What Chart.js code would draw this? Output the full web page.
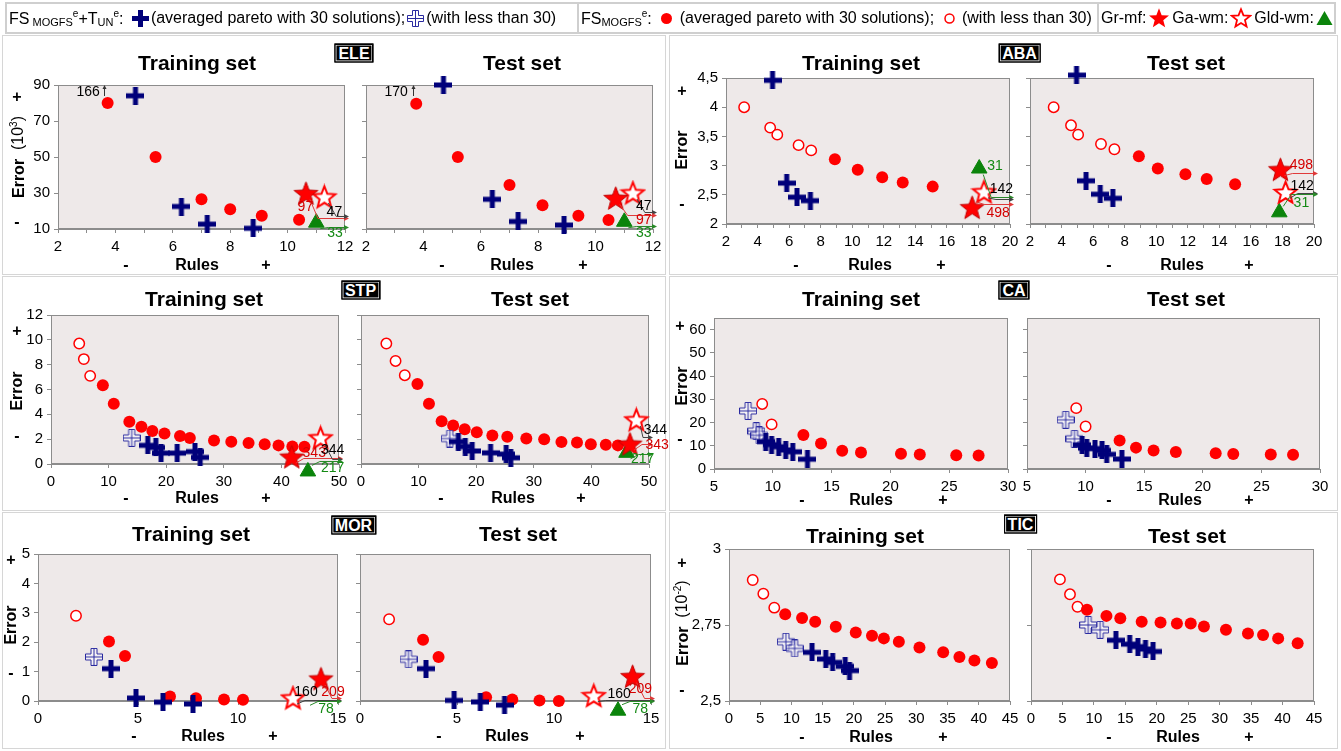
<!DOCTYPE html>
<html><head><meta charset="utf-8">
<script src="https://cdn.jsdelivr.net/npm/chart.js@4.4.1/dist/chart.umd.min.js"></script>
<style>
html,body{margin:0;padding:0;background:#fff;}
body{width:1341px;height:751px;position:relative;overflow:hidden;font-family:"Liberation Sans",Arial,Helvetica,sans-serif;color:#000;}
.c{position:absolute;transform:translate(-50%,-50%);white-space:nowrap;line-height:1;}
.panel{position:absolute;border:1px solid #d6d6d6;box-sizing:border-box;}
.tag{position:absolute;transform:translate(-50%,-50%);background:#000;color:#fff;font-weight:bold;font-size:16px;line-height:15px;padding:1px 3px;border:1px solid #000;box-shadow:inset 0 0 0 1px #fff;white-space:nowrap;}
.ttl{font-weight:bold;font-size:21px;}
.ax{font-weight:bold;font-size:16px;}
.rot{position:absolute;transform:translate(-50%,-50%) rotate(-90deg);white-space:nowrap;font-weight:bold;font-size:16px;line-height:1;}
.leg{position:absolute;top:18px;transform:translateY(-50%);display:flex;align-items:center;gap:2px;font-size:16px;white-space:nowrap;}
.leg sub{font-size:11px;vertical-align:-2px;}
.leg sup{font-size:10px;vertical-align:7px;}
canvas{position:absolute;}
</style></head><body>
<script>
// ====================== DATA ======================
// ---- ELE ----
const ELE_xTicks=[2,3,4,5,6,7,8,9,10,11,12];
const ELE_xLabels=['2','','4','','6','','8','','10','','12'];
const ELE_yTicks=[10,30,50,70,90];
const ELE_yLabels=['10','30','50','70','90'];
const ELE_tr_cross=[[4.7,84],[6.3,22.5],[7.2,12.7],[8.8,10.4]];
const ELE_tr_openPlus=[];
const ELE_tr_dot=[[3.73,80],[5.4,50],[7.0,26.5],[8.0,21],[9.1,17.3],[10.4,15.2]];
const ELE_tr_openDot=[];
const ELE_tr_grmf=[[10.64,29.7]];
const ELE_tr_gawm=[[11.28,27.8]];
const ELE_tr_gld=[[11.0,13.5]];
const ELE_tr_up=[['166',3.62,3.05,86.2]];
const ELE_tr_off=[['97','grmf',16.2,10.62,22],['47','gawm',17.0,11.63,19.5],['33','gld',11.3,11.65,7.6]];
const ELE_te_cross=[[4.7,90],[6.4,26.5],[7.3,14.2],[8.9,12.2]];
const ELE_te_openPlus=[];
const ELE_te_dot=[[3.75,79.6],[5.2,50],[7.0,34.4],[8.15,23.2],[9.4,17.3],[10.45,15.0]];
const ELE_te_openDot=[];
const ELE_te_grmf=[[10.7,27]];
const ELE_te_gawm=[[11.3,30]];
const ELE_te_gld=[[11.0,14]];
const ELE_te_up=[['170',3.65,3.05,86.2]];
const ELE_te_off=[['47','gawm',19.2,11.68,22.7],['97','grmf',17.7,11.68,15],['33','gld',11.8,11.68,7.6]];
// ---- ABA ----
const ABA_xTicks=[2,3,4,5,6,7,8,9,10,11,12,13,14,15,16,17,18,19,20];
const ABA_xLabels=['2','','4','','6','','8','','10','','12','','14','','16','','18','','20'];
const ABA_yTicks=[2,2.5,3,3.5,4,4.5];
const ABA_yLabels=['2','2,5','3','3,5','4','4,5'];
const ABA_tr_cross=[[4.95,4.46],[5.85,2.7],[6.5,2.46],[7.35,2.4]];
const ABA_tr_openPlus=[];
const ABA_tr_dot=[[8.9,3.11],[10.35,2.93],[11.9,2.8],[13.2,2.71],[15.1,2.64]];
const ABA_tr_openDot=[[3.15,4.0],[4.8,3.65],[5.25,3.53],[6.6,3.35],[7.4,3.26]];
const ABA_tr_grmf=[[17.6,2.28]];
const ABA_tr_gawm=[[18.35,2.55]];
const ABA_tr_gld=[[18.05,2.95]];
const ABA_tr_up=[];
const ABA_tr_off=[['31','gld',2.47,19.05,2.99],['142','gawm',2.43,19.45,2.59],['498','grmf',2.35,19.25,2.19]];
const ABA_te_cross=[[4.95,4.55],[5.55,2.74],[6.45,2.51],[7.25,2.44]];
const ABA_te_openPlus=[];
const ABA_te_dot=[[8.9,3.16],[10.1,2.95],[11.85,2.85],[13.2,2.77],[15.0,2.68]];
const ABA_te_openDot=[[3.5,4.0],[4.6,3.69],[5.05,3.53],[6.5,3.37],[7.35,3.28]];
const ABA_te_grmf=[[17.87,2.93]];
const ABA_te_gawm=[[18.2,2.54]];
const ABA_te_gld=[[17.8,2.2]];
const ABA_te_up=[];
const ABA_te_off=[['498','grmf',2.87,19.2,3.0],['142','gawm',2.53,19.25,2.64],['31','gld',2.51,19.2,2.36]];
// ---- STP ----
const STP_xTicks=[0,10,20,30,40,50];
const STP_xLabels=['0','10','20','30','40','50'];
const STP_yTicks=[0,2,4,6,8,10,12];
const STP_yLabels=['0','2','4','6','8','10','12'];
const STP_tr_cross=[[16.8,1.5],[18.2,1.33],[19.1,0.88],[21.9,0.88],[25.0,1.0],[25.9,0.53]];
const STP_tr_openPlus=[[14.0,2.1]];
const STP_tr_dot=[[9.0,6.35],[10.9,4.85],[13.6,3.4],[15.7,3.0],[17.6,2.65],[19.7,2.45],[22.4,2.25],[24.1,2.1],[28.3,1.9],[31.3,1.8],[34.3,1.7],[37.1,1.6],[39.5,1.5],[41.9,1.4],[44.0,1.38]];
const STP_tr_openDot=[[4.9,9.7],[5.7,8.45],[6.8,7.1]];
const STP_tr_grmf=[[41.8,0.55]];
const STP_tr_gawm=[[46.8,2.1]];
const STP_tr_gld=[[44.6,-0.6]];
const STP_tr_up=[];
const STP_tr_off=[['343','grmf',0.48,45.7,0.85],['344','gawm',0.4,48.9,1.15],['217','gld',0.25,48.9,-0.3]];
const STP_te_cross=[[16.9,1.8],[18.1,1.4],[19.3,1.05],[22.5,0.9],[25.2,0.8],[26.0,0.5]];
const STP_te_openPlus=[[15.4,2.05]];
const STP_te_dot=[[9.8,6.45],[11.8,4.85],[14.0,3.45],[16.0,3.1],[18.0,2.8],[20.1,2.55],[22.8,2.3],[25.4,2.2],[28.7,2.05],[31.8,2.0],[34.8,1.78],[37.5,1.73],[39.9,1.6],[42.5,1.55],[44.6,1.5]];
const STP_te_openDot=[[4.4,9.7],[6.0,8.3],[7.6,7.15]];
const STP_te_grmf=[[46.7,1.6]];
const STP_te_gawm=[[47.8,3.55]];
const STP_te_gld=[[46.1,0.9]];
const STP_te_up=[];
const STP_te_off=[['344','gawm',2.2,51.1,2.74],['343','grmf',1.6,51.4,1.55],['217','gld',0.8,48.9,0.4]];
// ---- CA ----
const CA_xTicks=[5,10,15,20,25,30];
const CA_xLabels=['5','10','15','20','25','30'];
const CA_yTicks=[0,10,20,30,40,50,60];
const CA_yLabels=['0','10','20','30','40','50','60'];
const CA_tr_cross=[[9.4,11.8],[9.9,10.5],[10.5,9.6],[11.1,8.2],[11.7,7.4],[12.95,4.2]];
const CA_tr_openPlus=[[7.9,25],[8.6,16.3],[8.85,14.5]];
const CA_tr_dot=[[12.6,14.6],[14.1,11.0],[15.9,7.9],[17.5,7.1],[20.9,6.6],[22.5,6.2],[25.6,5.9],[27.5,5.8]];
const CA_tr_openDot=[[9.1,28],[9.9,19.2]];
const CA_te_cross=[[9.7,10.4],[10.1,9.0],[10.8,8.8],[11.4,8.0],[11.8,6.3],[13.1,4.3]];
const CA_te_openPlus=[[8.3,21.2],[9.05,13.0]];
const CA_te_dot=[[12.9,12.3],[14.3,9.2],[15.8,8.0],[17.7,7.3],[21.1,6.8],[22.6,6.5],[25.8,6.2],[27.7,6.1]];
const CA_te_openDot=[[9.2,26.2],[10.0,18.3]];
// ---- MOR ----
const MOR_xTicks=[0,5,10,15];
const MOR_xLabels=['0','5','10','15'];
const MOR_yTicks=[0,1,2,3,4,5];
const MOR_yLabels=['0','1','2','3','4','5'];
const MOR_tr_cross=[[3.65,1.1],[4.9,0.1],[6.25,-0.04],[7.75,-0.1]];
const MOR_tr_openPlus=[[2.8,1.5]];
const MOR_tr_dot=[[3.55,2.02],[4.35,1.53],[6.6,0.15],[7.9,0.09],[9.3,0.05],[10.25,0.04]];
const MOR_tr_openDot=[[1.9,2.9]];
const MOR_tr_grmf=[[14.15,0.75]];
const MOR_tr_gawm=[[12.75,0.1]];
const MOR_tr_gld=[[13.4,-0.35]];
const MOR_tr_up=[];
const MOR_tr_off=[['160','gawm',0.03,13.4,0.29],['209','grmf',0.1,14.75,0.29],['78','gld',0.0,14.4,-0.26]];
const MOR_te_cross=[[3.4,1.1],[4.85,0.02],[6.2,-0.03],[7.45,-0.14]];
const MOR_te_openPlus=[[2.5,1.42]];
const MOR_te_dot=[[3.25,2.08],[4.05,1.5],[6.5,0.13],[7.85,0.05],[9.25,0.02],[10.25,0.0]];
const MOR_te_openDot=[[1.5,2.78]];
const MOR_te_grmf=[[14.05,0.83]];
const MOR_te_gawm=[[12.05,0.18]];
const MOR_te_gld=[[13.3,-0.33]];
const MOR_te_up=[];
const MOR_te_off=[['160','gawm',0.03,13.36,0.25],['209','grmf',0.1,14.45,0.42],['78','gld',0.0,14.45,-0.26]];
// ---- TIC ----
const TIC_xTicks=[0,5,10,15,20,25,30,35,40,45];
const TIC_xLabels=['0','5','10','15','20','25','30','35','40','45'];
const TIC_yTicks=[2.5,2.75,3];
const TIC_yLabels=['2,5','2,75','3'];
const TIC_tr_cross=[[13.3,2.66],[15.5,2.638],[16.6,2.627],[18.6,2.614],[19.3,2.6]];
const TIC_tr_openPlus=[[9.1,2.695],[10.5,2.673]];
const TIC_tr_dot=[[9.0,2.785],[11.7,2.773],[13.8,2.761],[17.1,2.744],[20.3,2.725],[22.9,2.715],[24.8,2.706],[27.2,2.695],[30.5,2.676],[34.3,2.66],[36.9,2.645],[39.3,2.633],[42.1,2.625]];
const TIC_tr_openDot=[[3.8,2.898],[5.5,2.853],[7.25,2.807]];
const TIC_te_cross=[[13.5,2.7],[15.7,2.687],[17.0,2.679],[18.2,2.671],[19.4,2.663]];
const TIC_te_openPlus=[[9.1,2.75],[11.0,2.734]];
const TIC_te_dot=[[8.9,2.8],[12.0,2.78],[14.2,2.772],[17.6,2.761],[20.6,2.758],[23.2,2.755],[25.4,2.755],[27.5,2.745],[31.0,2.734],[34.5,2.722],[36.9,2.717],[39.3,2.706],[42.4,2.69]];
const TIC_te_openDot=[[4.6,2.9],[6.2,2.851],[7.4,2.81]];

// ====================== RENDERING ======================
const FONT='"Liberation Sans", Arial, Helvetica, sans-serif';
const NAVY='#00007a', RED='#ff0000', GREEN='#0b840b';
Chart.defaults.font.family=FONT;

function mk(w,h,draw){const c=document.createElement('canvas');c.width=w;c.height=h;draw(c.getContext('2d'));return c;}
function starPath(g,cx,cy,R,r){g.beginPath();for(let i=0;i<10;i++){const a=-Math.PI/2+i*Math.PI/5;const q=i%2?r:R;g.lineTo(cx+q*Math.cos(a),cy+q*Math.sin(a));}g.closePath();}
function plusPath(g,c,a,L){g.beginPath();
  g.moveTo(c-a,c-L);g.lineTo(c+a,c-L);g.lineTo(c+a,c-a);g.lineTo(c+L,c-a);g.lineTo(c+L,c+a);g.lineTo(c+a,c+a);
  g.lineTo(c+a,c+L);g.lineTo(c-a,c+L);g.lineTo(c-a,c+a);g.lineTo(c-L,c+a);g.lineTo(c-L,c-a);g.lineTo(c-a,c-a);g.closePath();}
const imgCross=mk(18,18,g=>{g.fillStyle=NAVY;g.fillRect(6.5,0,5,18);g.fillRect(0,6.5,18,5);});
const imgOpenPlus=mk(18,18,g=>{plusPath(g,9,3,8.5);g.fillStyle='rgba(255,255,255,0.55)';g.fill();g.strokeStyle='#2a2aa0';g.lineWidth=1;g.stroke();
  g.beginPath();g.moveTo(9,0.5);g.lineTo(9,17.5);g.moveTo(0.5,9);g.lineTo(17.5,9);g.stroke();});
const imgStar=mk(27,27,g=>{starPath(g,13.5,14.3,12.5,5.3);g.fillStyle=RED;g.fill();g.strokeStyle='#c00000';g.lineWidth=1;g.stroke();});
const imgOpenStar=mk(27,27,g=>{starPath(g,13.5,14.3,11.5,5.0);g.fillStyle='#fff';g.fill();g.strokeStyle=RED;g.lineWidth=2;g.lineJoin='miter';g.stroke();});

const bgPlugin={id:'bgArea',
  beforeDraw(c){const a=c.chartArea,g=c.ctx;g.save();g.fillStyle='#eee9e9';g.fillRect(a.left,a.top,a.right-a.left,a.bottom-a.top);g.restore();},
  beforeDatasetsDraw(c){const a=c.chartArea,g=c.ctx;g.save();g.strokeStyle='#8c8c8c';g.lineWidth=1;
    g.strokeRect(Math.round(a.left)+0.5,Math.round(a.top)+0.5,Math.round(a.right-a.left)-1,Math.round(a.bottom-a.top)-1);g.restore();}
};
const NOTE_COL={grmf:['#d40000','#e03a3a'],gawm:['#000','#444'],gld:['#148a14','#2a8a2a']};
const notesPlugin={id:'notes',
  afterDatasetsDraw(chart){
    const o=chart.options.plugins.notes;if(!o)return;
    const g=chart.ctx,a=chart.chartArea,xs=chart.scales.x,ys=chart.scales.y;
    g.save();g.font='14px '+FONT;g.textAlign='center';g.textBaseline='middle';g.lineWidth=1;
    (o.up||[]).forEach(([t,ax,tx,ty])=>{
      const X=Math.round(xs.getPixelForValue(ax))+0.5;
      g.strokeStyle='#333';g.fillStyle='#333';
      g.beginPath();g.moveTo(X,a.top+11);g.lineTo(X,a.top+2);g.stroke();
      g.beginPath();g.moveTo(X,a.top);g.lineTo(X-2,a.top+4);g.lineTo(X+2,a.top+4);g.closePath();g.fill();
      g.fillStyle='#000';g.fillText(t,xs.getPixelForValue(tx),ys.getPixelForValue(ty));
    });
    (o.side||[]).forEach(([t,key,ay,tx,ty])=>{
      const pt=o.marks[key][0];const [tc,lc]=NOTE_COL[key];
      const mx=xs.getPixelForValue(pt[0]),my=ys.getPixelForValue(pt[1]);
      const py=Math.round(ys.getPixelForValue(ay))+0.5;
      const bx=Math.min(mx+12,a.right-6);
      const s=py>my?1:-1;
      g.strokeStyle=lc;g.fillStyle=lc;
      g.beginPath();g.moveTo(mx+4,my+s*6);g.lineTo(bx,py);g.lineTo(a.right+1,py);g.stroke();
      g.beginPath();g.moveTo(a.right+4,py);g.lineTo(a.right-1,py-2.5);g.lineTo(a.right-1,py+2.5);g.closePath();g.fill();
      g.fillStyle=tc;g.fillText(t,xs.getPixelForValue(tx),ys.getPixelForValue(ty));
    });
    g.restore();
  }
};

const pts=arr=>arr.map(([x,y])=>({x,y}));
function makePlot(area,d,showY){
  const [l,t,r,b]=area;const YW=46,PT=12,PR=34,XH=40;
  const cv=document.createElement('canvas');
  cv.width=r-l+YW+PR;cv.height=b-t+PT+XH;
  cv.style.left=(l-YW)+'px';cv.style.top=(t-PT)+'px';
  document.body.appendChild(cv);
  const ds=[];
  ds.push({data:pts(d.cross||[]),pointStyle:imgCross,pointRadius:8,clip:false});
  ds.push({data:pts(d.openPlus||[]),pointStyle:imgOpenPlus,pointRadius:8,clip:false});
  ds.push({data:pts(d.grmf||[]),pointStyle:imgStar,pointRadius:10,clip:false});
  ds.push({data:pts(d.gawm||[]),pointStyle:imgOpenStar,pointRadius:10,clip:false});
  ds.push({data:pts(d.gld||[]),pointStyle:'triangle',pointRadius:9,backgroundColor:GREEN,borderColor:GREEN,borderWidth:1,clip:false});
  ds.push({data:pts(d.dot||[]),pointStyle:'circle',pointRadius:6,backgroundColor:RED,borderColor:RED,borderWidth:0,clip:false});
  ds.push({data:pts(d.openDot||[]),pointStyle:'circle',pointRadius:5.2,backgroundColor:'#fff',borderColor:RED,borderWidth:1.5,clip:false});
  const tickFont={size:15,family:FONT};
  new Chart(cv,{type:'scatter',data:{datasets:ds},
    options:{responsive:false,animation:false,events:[],devicePixelRatio:1,
      layout:{padding:{left:0,top:PT,right:PR,bottom:0}},
      plugins:{legend:{display:false},tooltip:{enabled:false},title:{display:false},
        notes:{up:d.up||[],side:d.off||[],marks:{grmf:d.grmf,gawm:d.gawm,gld:d.gld}}},
      scales:{
        x:{type:'linear',min:d.xTicks[0],max:d.xTicks[d.xTicks.length-1],
          afterBuildTicks:s=>{s.ticks=d.xTicks.map(v=>({value:v}));},
          afterFit:s=>{s.height=XH;},
          ticks:{autoSkip:false,maxRotation:0,padding:5,color:'#000',font:tickFont,callback:(v,i)=>d.xLabels[i]},
          grid:{drawOnChartArea:false,drawTicks:true,tickLength:4,color:'#8c8c8c'},border:{display:true,color:'#8c8c8c'}},
        y:{type:'linear',min:d.ymin,max:d.ymax,
          afterBuildTicks:s=>{s.ticks=d.yTicks.map(v=>({value:v}));},
          afterFit:s=>{s.width=YW;},
          ticks:{autoSkip:false,padding:4,color:'#000',font:tickFont,callback:(v,i)=>showY?d.yLabels[i]:''},
          grid:{drawOnChartArea:false,drawTicks:true,tickLength:4,color:'#8c8c8c'},border:{display:true,color:'#8c8c8c'}}
      }},
    plugins:[bgPlugin,notesPlugin]});
}
function div(cls,x,y,html,extra){const e=document.createElement('div');e.className=cls;e.style.left=x+'px';e.style.top=y+'px';e.innerHTML=html;if(extra)e.style.cssText+=extra;document.body.appendChild(e);return e;}

// panel frames
[[2,35,666,275],[669,35,1338,275],[2,276,666,511],[669,276,1338,511],[2,512,666,749],[669,512,1338,749]].forEach(([l,t,r,b])=>{
  const e=document.createElement('div');e.className='panel';e.style.left=l+'px';e.style.top=t+'px';e.style.width=(r-l)+'px';e.style.height=(b-t)+'px';document.body.appendChild(e);});

const panels=[
 {key:'ELE',tag:[354,52.5],ty:62,ymin:10,ymax:90,yTitle:['Error&nbsp;&nbsp;<span style="font-weight:normal">(10<sup style="font-size:10px">3</sup>)</span>',18,157],plus:[17,97],minus:[17,222],ry:265,
  plots:[{area:[58,84,345,229],tx:197,name:'Training set',rx:197,mx:126,px:266,s:'tr'},{area:[366,84,653,229],tx:522,name:'Test set',rx:512,mx:442,px:583,s:'te'}]},
 {key:'ABA',tag:[1019.5,52.5],ty:62,ymin:2,ymax:4.5,yTitle:['Error',682,150],plus:[682,91],minus:[682,204],ry:265,
  plots:[{area:[726,77,1010,224],tx:861,name:'Training set',rx:870,mx:796,px:941,s:'tr'},{area:[1030,77,1314,224],tx:1186,name:'Test set',rx:1182,mx:1109,px:1249,s:'te'}]},
 {key:'STP',tag:[360.5,289.5],ty:298,ymin:0,ymax:12,yTitle:['Error',17,391],plus:[17,331],minus:[17,436],ry:498,
  plots:[{area:[51,314,339,464],tx:204,name:'Training set',rx:197,mx:126,px:266,s:'tr'},{area:[361,314,649,464],tx:530,name:'Test set',rx:513,mx:441,px:581,s:'te'}]},
 {key:'CA',tag:[1014,289.5],ty:298,ymin:0,ymax:65,yTitle:['Error',682,386],plus:[680,326],minus:[680,439],ry:500,
  plots:[{area:[714,317,1008,469],tx:861,name:'Training set',rx:871,mx:802,px:943,s:'tr'},{area:[1027,317,1320,469],tx:1186,name:'Test set',rx:1180,mx:1109,px:1249,s:'te'}]},
 {key:'MOR',tag:[353.5,524.5],ty:533,ymin:0,ymax:5,yTitle:['Error',11,625],plus:[11,560],minus:[11,673],ry:736,
  plots:[{area:[38,553,338,701],tx:191,name:'Training set',rx:203,mx:134,px:273,s:'tr'},{area:[360,553,651,701],tx:518,name:'Test set',rx:507,mx:439,px:580,s:'te'}]},
 {key:'TIC',tag:[1020.5,524],ty:535,ymin:2.5,ymax:3,yTitle:['Error&nbsp;&nbsp;<span style="font-weight:normal">(10<sup style="font-size:10px">-2</sup>)</span>',682,623],plus:[682,563],minus:[682,690],ry:737,
  plots:[{area:[729,548,1010,701],tx:865,name:'Training set',rx:871,mx:802,px:943,s:'tr'},{area:[1031,548,1314,701],tx:1187,name:'Test set',rx:1178,mx:1109,px:1249,s:'te'}]}
];
const DATA={
 ELE:{xTicks:ELE_xTicks,xLabels:ELE_xLabels,yTicks:ELE_yTicks,yLabels:ELE_yLabels,
  tr:{cross:ELE_tr_cross,openPlus:ELE_tr_openPlus,dot:ELE_tr_dot,openDot:ELE_tr_openDot,grmf:ELE_tr_grmf,gawm:ELE_tr_gawm,gld:ELE_tr_gld,up:ELE_tr_up,off:ELE_tr_off},
  te:{cross:ELE_te_cross,openPlus:ELE_te_openPlus,dot:ELE_te_dot,openDot:ELE_te_openDot,grmf:ELE_te_grmf,gawm:ELE_te_gawm,gld:ELE_te_gld,up:ELE_te_up,off:ELE_te_off}},
 ABA:{xTicks:ABA_xTicks,xLabels:ABA_xLabels,yTicks:ABA_yTicks,yLabels:ABA_yLabels,
  tr:{cross:ABA_tr_cross,openPlus:ABA_tr_openPlus,dot:ABA_tr_dot,openDot:ABA_tr_openDot,grmf:ABA_tr_grmf,gawm:ABA_tr_gawm,gld:ABA_tr_gld,up:ABA_tr_up,off:ABA_tr_off},
  te:{cross:ABA_te_cross,openPlus:ABA_te_openPlus,dot:ABA_te_dot,openDot:ABA_te_openDot,grmf:ABA_te_grmf,gawm:ABA_te_gawm,gld:ABA_te_gld,up:ABA_te_up,off:ABA_te_off}},
 STP:{xTicks:STP_xTicks,xLabels:STP_xLabels,yTicks:STP_yTicks,yLabels:STP_yLabels,
  tr:{cross:STP_tr_cross,openPlus:STP_tr_openPlus,dot:STP_tr_dot,openDot:STP_tr_openDot,grmf:STP_tr_grmf,gawm:STP_tr_gawm,gld:STP_tr_gld,up:STP_tr_up,off:STP_tr_off},
  te:{cross:STP_te_cross,openPlus:STP_te_openPlus,dot:STP_te_dot,openDot:STP_te_openDot,grmf:STP_te_grmf,gawm:STP_te_gawm,gld:STP_te_gld,up:STP_te_up,off:STP_te_off}},
 CA:{xTicks:CA_xTicks,xLabels:CA_xLabels,yTicks:CA_yTicks,yLabels:CA_yLabels,
  tr:{cross:CA_tr_cross,openPlus:CA_tr_openPlus,dot:CA_tr_dot,openDot:CA_tr_openDot},
  te:{cross:CA_te_cross,openPlus:CA_te_openPlus,dot:CA_te_dot,openDot:CA_te_openDot}},
 MOR:{xTicks:MOR_xTicks,xLabels:MOR_xLabels,yTicks:MOR_yTicks,yLabels:MOR_yLabels,
  tr:{cross:MOR_tr_cross,openPlus:MOR_tr_openPlus,dot:MOR_tr_dot,openDot:MOR_tr_openDot,grmf:MOR_tr_grmf,gawm:MOR_tr_gawm,gld:MOR_tr_gld,up:MOR_tr_up,off:MOR_tr_off},
  te:{cross:MOR_te_cross,openPlus:MOR_te_openPlus,dot:MOR_te_dot,openDot:MOR_te_openDot,grmf:MOR_te_grmf,gawm:MOR_te_gawm,gld:MOR_te_gld,up:MOR_te_up,off:MOR_te_off}},
 TIC:{xTicks:TIC_xTicks,xLabels:TIC_xLabels,yTicks:TIC_yTicks,yLabels:TIC_yLabels,
  tr:{cross:TIC_tr_cross,openPlus:TIC_tr_openPlus,dot:TIC_tr_dot,openDot:TIC_tr_openDot},
  te:{cross:TIC_te_cross,openPlus:TIC_te_openPlus,dot:TIC_te_dot,openDot:TIC_te_openDot}}
};

panels.forEach(p=>{
  const D=DATA[p.key];
  p.plots.forEach((q,i)=>{
    const d=Object.assign({xTicks:D.xTicks,xLabels:D.xLabels,yTicks:D.yTicks,yLabels:D.yLabels,ymin:p.ymin,ymax:p.ymax},D[q.s]);
    makePlot(q.area,d,i===0);
    div('c ttl',q.tx,p.ty,q.name);
    div('c ax',q.rx,p.ry,'Rules');
    div('c ax',q.mx,p.ry,'-');
    div('c ax',q.px,p.ry,'+');
  });
  div('tag',p.tag[0],p.tag[1],p.key);
  div('rot',p.yTitle[1],p.yTitle[2],p.yTitle[0]);
  div('c ax',p.plus[0],p.plus[1],'+');
  div('c ax',p.minus[0],p.minus[1],'-');
});

// legend
const svgCross='<svg width="17" height="17"><rect x="6" y="0" width="5" height="17" fill="'+NAVY+'"/><rect x="0" y="6" width="17" height="5" fill="'+NAVY+'"/></svg>';
const svgOpenPlus='<svg width="17" height="17"><path d="M5.5 0.5H11.5V5.5H16.5V11.5H11.5V16.5H5.5V11.5H0.5V5.5H5.5Z M8.5 0.5V16.5 M0.5 8.5H16.5" fill="#fff" stroke="#2a2aa0" stroke-width="1"/></svg>';
const svgDot='<svg width="13" height="13"><circle cx="6.5" cy="6.5" r="5.5" fill="'+RED+'"/></svg>';
const svgODot='<svg width="13" height="13"><circle cx="6.5" cy="6.5" r="4.5" fill="#fff" stroke="'+RED+'" stroke-width="1.5"/></svg>';
function starD(cx,cy,R,r){let s='';for(let i=0;i<10;i++){const a=-Math.PI/2+i*Math.PI/5;const q=i%2?r:R;s+=(i?'L':'M')+(cx+q*Math.cos(a)).toFixed(2)+' '+(cy+q*Math.sin(a)).toFixed(2);}return s+'Z';}
const svgStar='<svg width="22" height="22"><path d="'+starD(11,11.8,10.5,4.5)+'" fill="'+RED+'"/></svg>';
const svgOStar='<svg width="22" height="22"><path d="'+starD(11,11.8,9.5,4.2)+'" fill="#fff" stroke="'+RED+'" stroke-width="1.8"/></svg>';
const svgTri='<svg width="17" height="16"><path d="M8.5 1L16.5 15H0.5Z" fill="'+GREEN+'"/></svg>';
const lb=document.createElement('div');lb.style.cssText='position:absolute;left:5px;top:2px;width:1331px;height:32px;border:2px solid #cfcfcf;box-sizing:border-box;';document.body.appendChild(lb);
[577,1097].forEach(x=>{const e=document.createElement('div');e.style.cssText='position:absolute;left:'+x+'px;top:3px;width:2px;height:30px;background:#cfcfcf;';document.body.appendChild(e);});
div('leg',9,18,'<span>FS<sub>&nbsp;MOGFS</sub><sup>e</sup>+T<sub>UN</sub><sup>e</sup>:</span>&nbsp;'+svgCross+'<span>(averaged pareto with 30 solutions);</span>'+svgOpenPlus+'<span>(with less than 30)</span>');
div('leg',581,18,'<span>FS<sub>MOGFS</sub><sup>e</sup>:</span>&nbsp;'+svgDot+'<span>&nbsp;(averaged pareto with 30 solutions);</span>&nbsp;'+svgODot+'<span>&nbsp;(with less than 30)</span>');
div('leg',1101,18,'<span>Gr-mf:</span>'+svgStar+'<span>Ga-wm:</span>'+svgOStar+'<span>Gld-wm:</span>'+svgTri);
</script>
</body></html>
